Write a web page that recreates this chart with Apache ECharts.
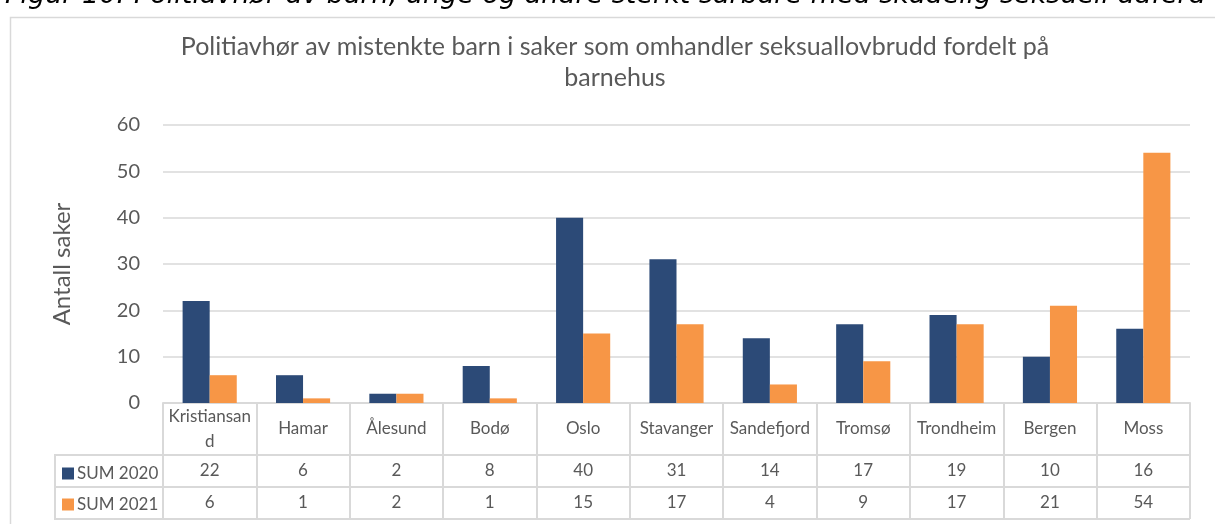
<!DOCTYPE html>
<html>
<head>
<meta charset="utf-8">
<script src="https://cdn.jsdelivr.net/npm/echarts@6/dist/echarts.min.js"></script>
<style>
html,body{margin:0;padding:0;background:#fff;}
#chart{width:1215px;height:524px;}
</style>
</head>
<body>
<div id="chart"></div>
<script>
// ---- Data ----
const categories = ['Kristiansand','Hamar','Ålesund','Bodø','Oslo','Stavanger','Sandefjord','Tromsø','Trondheim','Bergen','Moss'];
const sum2020 = [22, 6, 2, 8, 40, 31, 14, 17, 19, 10, 16];
const sum2021 = [6, 1, 2, 1, 15, 17, 4, 9, 17, 21, 54];
const seriesNames = ['SUM 2020', 'SUM 2021'];
const yTicks = { min: 0, max: 60, interval: 10 };
const titleText = 'Politiavhør av mistenkte barn i saker som omhandler seksuallovbrudd fordelt på\nbarnehus';
const captionText = 'Figur 10: Politiavhør av barn, unge og andre sterkt sårbare med skadelig seksuell adferd';
const yName = 'Antall saker';

// ---- Layout / style ----
const W = 1215, H = 524;
const GL = 163, GR = 25, GT = 125, GB = 121; // grid
const plotBottom = H - GB;        // 403
const row1 = plotBottom + 52;     // 455
const row2 = plotBottom + 84;     // 487
const row3 = plotBottom + 116;    // 519
const legendLeft = 55;
const lineCol = '#d9d9d9';
const textCol = '#595959';
const font = 'Lato';
const c2020 = '#2C4A77';
const c2021 = '#F79646';

const chart = echarts.init(document.getElementById('chart'), null, {renderer: 'canvas'});

function valueAxis(values, offset) {
  return {
    type: 'category', data: categories, gridIndex: 0, position: 'bottom', offset: offset,
    axisLine: {show: false}, axisTick: {show: false},
    axisLabel: {
      interval: 0, color: textCol, fontFamily: font, fontSize: 17,
      verticalAlign: 'middle', margin: 16,
      formatter: function (v, i) { return String(values[i]); }
    }
  };
}

const hLine = (y, x1) => ({type: 'line', silent: true, shape: {x1: x1, y1: y, x2: W - GR, y2: y}, style: {stroke: lineCol, lineWidth: 2}});

chart.setOption({
  animation: false,
  backgroundColor: '#fff',
  title: {
    text: titleText, left: 610, top: 26, textAlign: 'center',
    textStyle: {color: textCol, fontFamily: font, fontSize: 25, fontWeight: 'normal', lineHeight: 31}
  },
  legend: {
    orient: 'vertical', left: 62, top: 465, padding: 0, itemGap: 14, itemWidth: 12, itemHeight: 12,
    icon: 'rect', data: seriesNames,
    textStyle: {color: textCol, fontFamily: font, fontSize: 17, padding: [0,0,0,-2]}
  },
  grid: {left: GL, right: GR, top: GT, bottom: GB, containLabel: false},
  xAxis: [
    {
      type: 'category', data: categories, gridIndex: 0, position: 'bottom',
      axisLine: {show: true, lineStyle: {color: lineCol, width: 2}},
      axisTick: {show: true, length: 116, lineStyle: {color: lineCol, width: 2}},
      axisLabel: {
        interval: 0, color: textCol, fontFamily: font, fontSize: 17,
        width: 85, overflow: 'breakAll', lineHeight: 25,
        verticalAlign: 'middle', margin: 26
      }
    },
    valueAxis(sum2020, 52),
    valueAxis(sum2021, 84)
  ],
  yAxis: {
    type: 'value', min: yTicks.min, max: yTicks.max, interval: yTicks.interval,
    name: yName, nameLocation: 'middle', nameGap: 89, nameRotate: 90,
    nameTextStyle: {color: textCol, fontFamily: font, fontSize: 24},
    axisLine: {show: false}, axisTick: {show: false},
    axisLabel: {color: textCol, fontFamily: font, fontSize: 20, margin: 23},
    splitLine: {lineStyle: {color: lineCol, width: 1.5}}
  },
  series: [
    {name: seriesNames[0], type: 'bar', data: sum2020, barGap: '0%', barCategoryGap: '42%', itemStyle: {color: c2020}},
    {name: seriesNames[1], type: 'bar', data: sum2021, barGap: '0%', barCategoryGap: '42%', itemStyle: {color: c2021}}
  ],
  graphic: [
    {type: 'rect', silent: true, shape: {x: 10.5, y: 17.5, width: 1230, height: 540}, style: {fill: null, stroke: lineCol, lineWidth: 1.5}},
    {type: 'text', silent: true, x: 5, y: 9, z: 10, style: {text: captionText, fill: '#000', font: 'italic 27px "DejaVu Sans"', verticalAlign: 'bottom'}},
    hLine(row1, legendLeft), hLine(row2, legendLeft), hLine(row3, legendLeft),
    {type: 'line', silent: true, shape: {x1: legendLeft, y1: row1 - 1, x2: legendLeft, y2: row3 + 1}, style: {stroke: lineCol, lineWidth: 2}}
  ]
});
</script>
</body>
</html>
